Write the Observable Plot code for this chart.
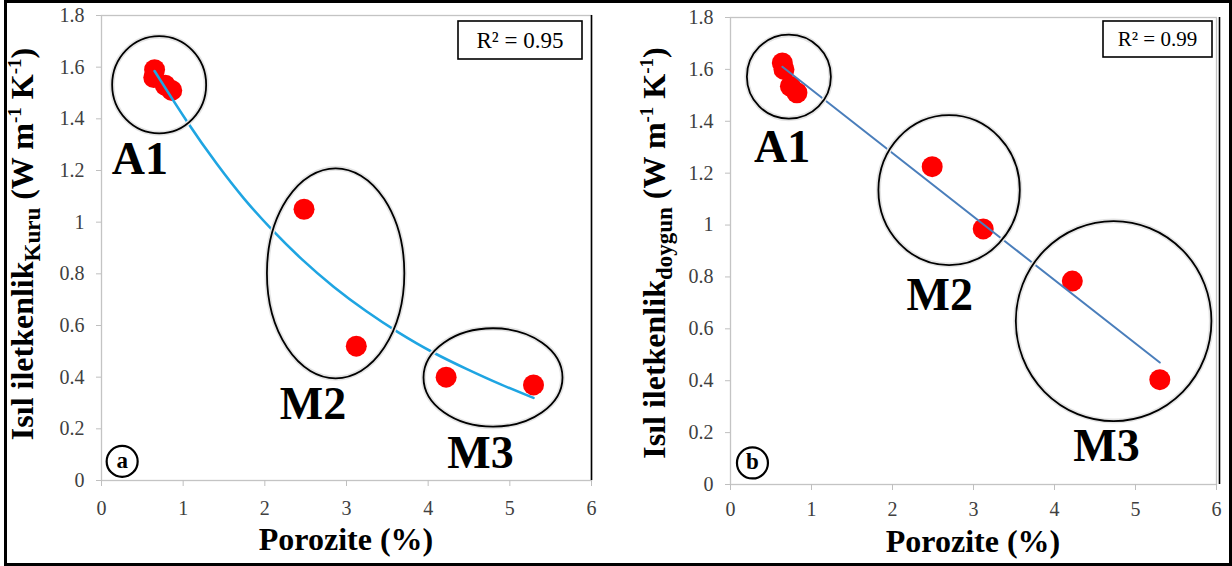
<!DOCTYPE html>
<html><head><meta charset="utf-8">
<script src="https://cdn.jsdelivr.net/npm/d3@7"></script>
<script src="https://cdn.jsdelivr.net/npm/@observablehq/plot@0.6"></script>
<style>
body{margin:0;background:#fff;}
#wrap{position:relative;width:1232px;height:566px;overflow:hidden;background:#fff;}
#wrap svg text{font-family:'Liberation Serif','Times New Roman',serif !important;}
#wrap g[aria-label$="tick label"]{font-size:20px !important;}
.panel{position:absolute;top:0;}
#border{position:absolute;left:4px;top:0;width:1228px;height:566px;box-sizing:border-box;border:3.5px solid #000;pointer-events:none;}
</style></head><body>
<div id="wrap"><div id="pa" class="panel" style="left:0"></div><div id="pb" class="panel" style="left:616px"></div><div id="border"></div></div>
<script>
// ---- data ----
const xTicks = [0, 1, 2, 3, 4, 5, 6];
const yTicks = [0, 0.2, 0.4, 0.6, 0.8, 1, 1.2, 1.4, 1.6, 1.8];
const yTickLabels = ["0", "0.2", "0.4", "0.6", "0.8", "1", "1.2", "1.4", "1.6", "1.8"];

// panel a: dry thermal conductivity
const porosityA = [0.65, 0.64, 0.78, 0.86, 2.48, 3.12, 4.22, 5.29];
const kDry = [1.59, 1.56, 1.53, 1.51, 1.05, 0.52, 0.40, 0.37];
const fitAX = [0.65, 1.05, 1.42, 1.74, 2.09, 2.44, 2.84, 3.25, 3.62, 4.05, 4.48, 4.88, 5.29];
const fitAY = [1.585, 1.385, 1.220, 1.090, 0.968, 0.858, 0.748, 0.652, 0.575, 0.495, 0.430, 0.372, 0.320];
const r2A = "R² = 0.95";

// panel b: saturated thermal conductivity
const porosityB = [0.64, 0.66, 0.74, 0.82, 2.49, 3.12, 4.22, 5.30];
const kSat = [1.625, 1.60, 1.535, 1.51, 1.225, 0.985, 0.784, 0.404];
const fitBX = [0.64, 5.30];
const fitBY = [1.61, 0.47];
const r2B = "R² = 0.99";

// group labels and their encircling ellipses
const groups = ["A1", "M2", "M3"];
const labelAX = [0.47, 2.59, 4.64];
const labelAY = [1.243, 0.297, 0.106];
const labelBX = [0.636, 2.584, 4.642];
const labelBY = [1.301, 0.729, 0.146];
const ellAX = [0.712, 2.873, 4.80];
const ellAY = [1.530, 0.80, 0.397];
const ellARx = [47, 68.7, 69.5];
const ellARy = [48.6, 105, 49.2];
const ellBX = [0.727, 2.705, 4.736];
const ellBY = [1.570, 1.133, 0.628];
const ellBRx = [42, 70.7, 97.8];
const ellBRy = [42, 75, 100];

const panelTags = ["a", "b"];
const tagX = [0.253, 0.271];
const tagY = [0.074, 0.083];

const serif = "'Liberation Serif', 'Times New Roman', serif";

function makePanel(cfg) {
  const pts = cfg.px.map((x, i) => ({x, y: cfg.py[i]}));
  const fit = cfg.fx.map((x, i) => ({x, y: cfg.fy[i]}));
  const labels = groups.map((g, i) => ({g, x: cfg.lx[i], y: cfg.ly[i]}));
  const ells = groups.map((g, i) => ({x: cfg.ex[i], y: cfg.ey[i], rx: cfg.erx[i], ry: cfg.ery[i]}));
  const tag = [{t: cfg.tag, x: cfg.tx, y: cfg.ty}];

  const plot = Plot.plot({
    width: 616, height: 566,
    marginLeft: cfg.ml, marginRight: cfg.mr, marginTop: cfg.mt, marginBottom: cfg.mb,
    style: {fontFamily: serif, background: "transparent", overflow: "visible"},
    x: {domain: [0, 6]},
    y: {domain: [0, 1.8]},
    marks: [
      Plot.frame({stroke: "#c4c4c4", strokeWidth: 1.3}),
      Plot.ruleX([6], {stroke: "#000", strokeWidth: 1.6, dx: cfg.rdx}),
      Plot.axisX({ticks: xTicks, tickSize: 6, tickPadding: cfg.xpad, stroke: "#bfbfbf", fill: "#404040", fontSize: 20, label: null, tickFormat: d => String(d)}),
      Plot.axisY({ticks: yTicks, tickSize: 5, tickPadding: 12, stroke: "#bfbfbf", fill: "#404040", fontSize: 20, label: null, tickFormat: d => yTickLabels[yTicks.indexOf(d)]}),
      Plot.dot(pts, {x: "x", y: "y", r: 10.5, fill: "#ff0000", stroke: null}),
      Plot.line(fit, {x: "x", y: "y", stroke: cfg.lineColor, strokeWidth: cfg.lineWidth, curve: "basis"}),
      Plot.text(labels, {x: "x", y: "y", text: "g", fontSize: 46, fontWeight: "bold", fill: "#000"}),
      Plot.dot(tag, {x: "x", y: "y", r: 15.5, stroke: "#000", strokeWidth: 2.2, fill: "#fff"}),
      Plot.text(tag, {x: "x", y: "y", text: "t", fontSize: 23, fontWeight: "bold", fill: "#000", dy: -1})
    ]
  });

  const svg = d3.select(plot);
  const sx = plot.scale("x"), sy = plot.scale("y");
  const g = svg.append("g");
  g.selectAll("ellipse.halo").data(ells).join("ellipse")
    .attr("cx", d => sx.apply(d.x)).attr("cy", d => sy.apply(d.y))
    .attr("rx", d => d.rx).attr("ry", d => d.ry)
    .attr("fill", "none").attr("stroke", "#e4e4e4").attr("stroke-width", 5);
  g.selectAll("ellipse.main").data(ells).join("ellipse")
    .attr("cx", d => sx.apply(d.x)).attr("cy", d => sy.apply(d.y))
    .attr("rx", d => d.rx).attr("ry", d => d.ry)
    .attr("fill", "none").attr("stroke", "#000").attr("stroke-width", 1.8);

  // R² box
  const b = cfg.box;
  svg.append("rect").attr("x", b[0]).attr("y", b[1]).attr("width", b[2]).attr("height", b[3])
    .attr("fill", "#fff").attr("stroke", "#000").attr("stroke-width", 1.6);
  svg.append("text").attr("x", b[0] + b[2] / 2).attr("y", b[1] + b[3] / 2).attr("dy", "0.35em")
    .attr("text-anchor", "middle").style("font-size", `${cfg.r2Size}px`).attr("fill", "#000").text(cfg.r2);

  // x title
  svg.append("text").attr("x", (cfg.ml + 616 - cfg.mr) / 2).attr("y", cfg.xty)
    .attr("text-anchor", "middle").style("font-size", "32px").style("font-weight", "bold").attr("fill", "#000").text("Porozite (%)");

  // y title
  const t = svg.append("text").attr("transform", `translate(${cfg.ytx},${cfg.yty}) rotate(-90)`)
    .attr("text-anchor", "middle").style("font-size", "32px").style("font-weight", "bold").attr("fill", "#000");
  t.append("tspan").text("Isıl iletkenlik");
  t.append("tspan").attr("font-size", 23).attr("dy", 7).text(cfg.sub);
  t.append("tspan").attr("dy", -7).text(" (W m");
  t.append("tspan").attr("font-size", 19).attr("dy", -12).text("-1");
  t.append("tspan").attr("dy", 12).text(" K");
  t.append("tspan").attr("font-size", 19).attr("dy", -12).text("-1");
  t.append("tspan").attr("dy", 12).text(")");
  return plot;
}

document.getElementById("pa").appendChild(makePanel({
  px: porosityA, py: kDry, fx: fitAX, fy: fitAY,
  lx: labelAX, ly: labelAY, ex: ellAX, ey: ellAY, erx: ellARx, ery: ellARy,
  tag: panelTags[0], tx: tagX[0], ty: tagY[0],
  ml: 101, mr: 25, mt: 15, mb: 86, rdx: 0, xpad: 14, xty: 550,
  lineColor: "#1fa5e2", lineWidth: 2.6,
  box: [458, 21, 124, 38], r2: r2A, r2Size: 23,
  sub: "Kuru", ytx: 33, yty: 244
}));
document.getElementById("pb").appendChild(makePanel({
  px: porosityB, py: kSat, fx: fitBX, fy: fitBY,
  lx: labelBX, ly: labelBY, ex: ellBX, ey: ellBY, erx: ellBRx, ery: ellBRy,
  tag: panelTags[1], tx: tagX[1], ty: tagY[1],
  ml: 114, mr: 16, mt: 17, mb: 82, rdx: 3, xpad: 11, xty: 552,
  lineColor: "#4a7ebb", lineWidth: 2,
  box: [487, 21, 109, 36], r2: r2B, r2Size: 21,
  sub: "doygun", ytx: 49, yty: 253
}));
</script>
</body></html>
